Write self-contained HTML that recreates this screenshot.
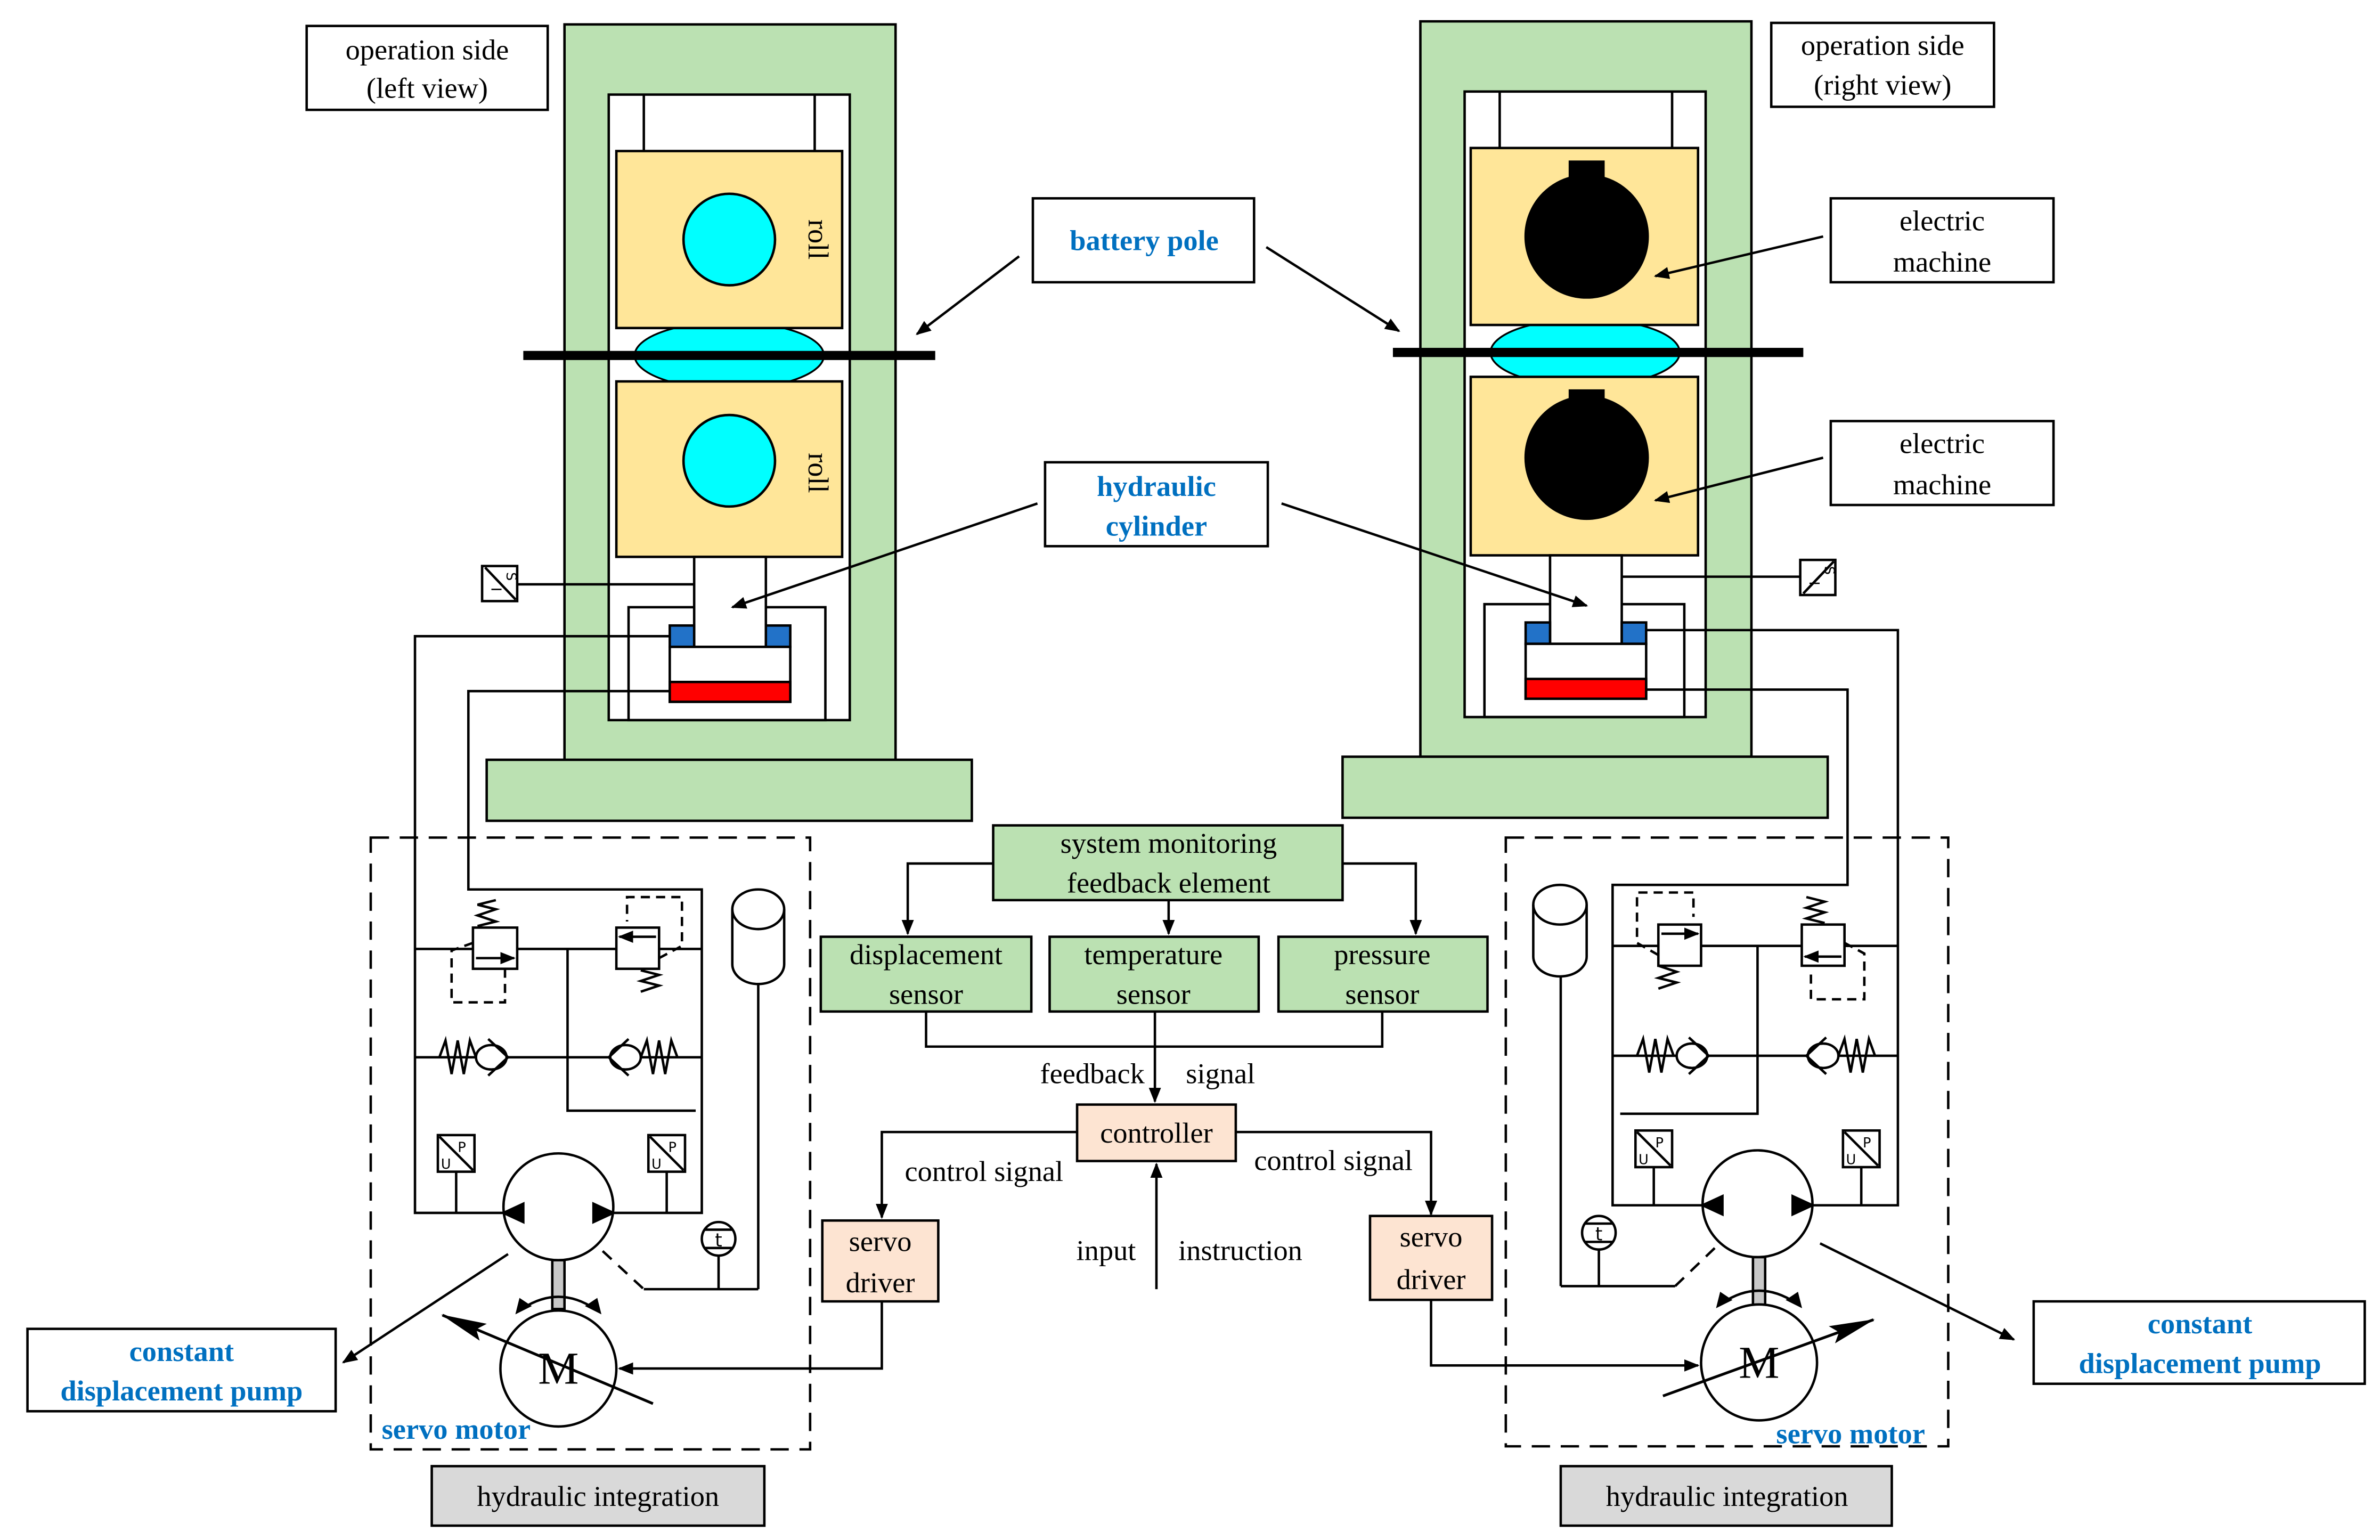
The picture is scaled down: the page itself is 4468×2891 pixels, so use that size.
<!DOCTYPE html>
<html><head><meta charset="utf-8"><style>html,body{margin:0;padding:0;background:#fff}svg{display:block}</style></head>
<body>
<svg xmlns="http://www.w3.org/2000/svg" width="4468" height="2891" viewBox="0 0 1560 1009.4" font-family="'Liberation Serif', serif">
<defs>
<marker id="a" markerWidth="10" markerHeight="8" refX="9" refY="4" orient="auto" markerUnits="userSpaceOnUse"><path d="M0,0 L10,4 L0,8 Z" fill="#000"/></marker>
<marker id="b" markerWidth="30" markerHeight="12" refX="29" refY="6" orient="auto" markerUnits="userSpaceOnUse"><path d="M0,0 L30,6 L0,12 L5,6 Z" fill="#000"/></marker>
</defs>
<rect width="1560" height="1010" fill="#fff"/>
<g stroke="#000" stroke-width="1.6" fill="none">
<rect x="370" y="16" width="217" height="482" fill="#bbe1b2"/>
<rect x="319" y="498" width="318" height="40" fill="#bbe1b2"/>
<rect x="399" y="62" width="158" height="410" fill="#fff"/>
<line x1="422" y1="62" x2="422" y2="99"/><line x1="534" y1="62" x2="534" y2="99"/>
<ellipse cx="478" cy="233" rx="62" ry="22" fill="#00ffff" stroke-width="1.2"/>
<rect x="404" y="99" width="148" height="116" fill="#ffe699"/>
<rect x="404" y="250" width="148" height="115" fill="#ffe699"/>
<circle cx="478" cy="157" r="30" fill="#00ffff"/>
<circle cx="478" cy="302" r="30" fill="#00ffff"/>
<line x1="343" y1="233" x2="613" y2="233" stroke-width="6"/>
<rect x="412" y="398" width="129" height="74"/>
<rect x="455" y="365" width="47" height="59" fill="#fff"/>
<rect x="439" y="410" width="16" height="14" fill="#2272c8"/>
<rect x="502" y="410" width="16" height="14" fill="#2272c8"/>
<rect x="439" y="424" width="79" height="36" fill="#fff"/>
<rect x="439" y="447" width="79" height="13" fill="#f00"/>
<rect x="316" y="371" width="23" height="23" fill="#fff"/><line x1="318" y1="372" x2="338" y2="393"/>
<line x1="339" y1="383" x2="455" y2="383"/>
<rect x="931" y="14" width="217" height="482" fill="#bbe1b2"/>
<rect x="880" y="496" width="318" height="40" fill="#bbe1b2"/>
<rect x="960" y="60" width="158" height="410" fill="#fff"/>
<line x1="983" y1="60" x2="983" y2="97"/><line x1="1096" y1="60" x2="1096" y2="97"/>
<ellipse cx="1039" cy="231" rx="62" ry="22" fill="#00ffff" stroke-width="1.2"/>
<rect x="964" y="97" width="149" height="116" fill="#ffe699"/>
<rect x="964" y="247" width="149" height="117" fill="#ffe699"/>
<circle cx="1040" cy="155" r="40" fill="#000"/><rect x="1029" y="106" width="22" height="14" fill="#000"/>
<circle cx="1040" cy="300" r="40" fill="#000"/><rect x="1029" y="256" width="22" height="14" fill="#000"/>
<line x1="913" y1="231" x2="1182" y2="231" stroke-width="6"/>
<rect x="973" y="396" width="131" height="74"/>
<rect x="1016" y="364" width="47" height="58" fill="#fff"/>
<rect x="1000" y="408" width="16" height="14" fill="#2272c8"/>
<rect x="1063" y="408" width="16" height="14" fill="#2272c8"/>
<rect x="1000" y="422" width="79" height="36" fill="#fff"/>
<rect x="1000" y="445" width="79" height="13" fill="#f00"/>
<rect x="1180" y="367" width="23" height="23" fill="#fff"/><line x1="1182" y1="389" x2="1202" y2="368"/>
<line x1="1063" y1="378" x2="1180" y2="378"/>
<rect x="243" y="549" width="288" height="401" stroke-dasharray="12,7"/>
<polyline points="439,417 272,417 272,795 330,795"/>
<polyline points="439,453 307,453 307,583 460,583 460,795 402,795"/>
<line x1="272" y1="622" x2="460" y2="622"/>
<rect x="310" y="608" width="29" height="27" fill="#fff"/><line x1="312" y1="628" x2="337" y2="628" marker-end="url(#a)"/>
<polyline points="313,607 325,604 313,600 325,596 313,593 325,590"/>
<polyline points="310,618 296,623 296,657 331,657 331,635" stroke-dasharray="6,4"/>
<rect x="404" y="608" width="28" height="27" fill="#fff"/><line x1="430" y1="614" x2="406" y2="614" marker-end="url(#a)"/>
<polyline points="420,636 432,639 420,643 432,646 420,650"/>
<polyline points="432,628 447,620 447,588 411,588 411,604" stroke-dasharray="6,4"/>
<polyline points="372,622 372,728 456,728 Q458,736 462,736 Q466,736 466,728 L497,728"/>
<line x1="272" y1="693" x2="460" y2="693"/>
<polyline points="288,693 292,682 296,704 300,682 304,704 308,682 312,693" />
<ellipse cx="322" cy="693" rx="10" ry="8" fill="#fff"/><polyline points="320,681 333,693 320,705"/>
<ellipse cx="410" cy="693" rx="10" ry="8" fill="#fff"/><polyline points="412,681 399,693 412,705"/>
<polyline points="420,693 424,682 428,704 432,682 436,704 440,682 444,693"/>
<path d="M480,596 A17,13 0 0 1 514,596 L514,632 A17,13 0 0 1 480,632 Z" fill="#fff"/><path d="M480,596 A17,13 0 0 0 514,596"/>
<line x1="497" y1="645" x2="497" y2="845"/>
<rect x="287" y="744" width="24" height="24" fill="#fff"/><line x1="288" y1="745" x2="310" y2="767"/><line x1="299" y1="768" x2="299" y2="795"/>
<rect x="425" y="744" width="24" height="24" fill="#fff"/><line x1="426" y1="745" x2="448" y2="767"/><line x1="437" y1="768" x2="437" y2="795"/>
<ellipse cx="366" cy="791" rx="36" ry="35" fill="#fff"/>
<path d="M330,795 L343,789 L343,801 Z M402,795 L389,789 L389,801 Z" fill="#000"/>
<circle cx="471" cy="812" r="11" fill="#fff"/><line x1="462" y1="806" x2="480" y2="806"/><line x1="462" y1="818" x2="480" y2="818"/>
<line x1="471" y1="823" x2="471" y2="845"/>
<polyline points="422,845 497,845"/><line x1="395" y1="820" x2="422" y2="845" stroke-dasharray="8,6"/>
<rect x="362" y="826" width="8" height="32" fill="#c8c8c8"/>
<path d="M342,858 Q366,842 390,858" /><path d="M339,860 l2,-8 l6,4 Z M393,860 l-2,-8 l-6,4 Z" fill="#000"/>
<circle cx="366" cy="897" r="38" fill="#fff"/>
<line x1="428" y1="920" x2="290" y2="862" stroke-width="1.8" marker-end="url(#b)"/>
<polyline points="578,853 578,897 406,897" marker-end="url(#a)"/>
<line x1="333" y1="822" x2="225" y2="893" marker-end="url(#a)"/>
<rect x="987" y="549" width="290" height="399" stroke-dasharray="12,7"/>
<polyline points="1079,413 1244,413 1244,790 1188,790"/>
<polyline points="1079,452 1211,452 1211,580 1057,580 1057,790 1116,790"/>
<line x1="1057" y1="620" x2="1244" y2="620"/>
<rect x="1087" y="606" width="28" height="27" fill="#fff"/><line x1="1089" y1="612" x2="1113" y2="612" marker-end="url(#a)"/>
<polyline points="1087,633 1099,637 1087,641 1099,644 1087,648"/>
<polyline points="1087,626 1073,618 1073,585 1110,585 1110,601" stroke-dasharray="6,4"/>
<rect x="1181" y="606" width="28" height="27" fill="#fff"/><line x1="1207" y1="627" x2="1183" y2="627" marker-end="url(#a)"/>
<polyline points="1196,605 1184,602 1196,598 1184,595 1196,591 1184,588"/>
<polyline points="1209,618 1222,625 1222,655 1187,655 1187,636" stroke-dasharray="6,4"/>
<polyline points="1152,620 1152,730 1062,730 Q1060,738 1056,738 Q1052,738 1050,730 L1023,730"/>
<line x1="1057" y1="692" x2="1244" y2="692"/>
<polyline points="1073,692 1077,681 1081,703 1085,681 1089,703 1093,681 1097,692"/>
<ellipse cx="1109" cy="692" rx="10" ry="8" fill="#fff"/><polyline points="1107,680 1120,692 1107,704"/>
<ellipse cx="1195" cy="692" rx="10" ry="8" fill="#fff"/><polyline points="1197,680 1184,692 1197,704"/>
<polyline points="1205,692 1209,681 1213,703 1217,681 1221,703 1225,681 1229,692"/>
<path d="M1005,593 A17.5,13 0 0 1 1040,593 L1040,627 A17.5,13 0 0 1 1005,627 Z" fill="#fff"/><path d="M1005,593 A17.5,13 0 0 0 1040,593"/>
<line x1="1023" y1="640" x2="1023" y2="843"/>
<rect x="1072" y="741" width="24" height="24" fill="#fff"/><line x1="1073" y1="742" x2="1095" y2="764"/><line x1="1084" y1="765" x2="1084" y2="790"/>
<rect x="1208" y="741" width="24" height="24" fill="#fff"/><line x1="1209" y1="742" x2="1231" y2="764"/><line x1="1220" y1="765" x2="1220" y2="790"/>
<ellipse cx="1152" cy="789" rx="36" ry="35" fill="#fff"/>
<path d="M1116,790 L1129,784 L1129,796 Z M1188,790 L1175,784 L1175,796 Z" fill="#000"/>
<circle cx="1048" cy="808" r="11" fill="#fff"/><line x1="1039" y1="802" x2="1057" y2="802"/><line x1="1039" y1="814" x2="1057" y2="814"/>
<line x1="1048" y1="819" x2="1048" y2="843"/>
<polyline points="1023,843 1098,843"/><line x1="1098" y1="843" x2="1124" y2="818" stroke-dasharray="8,6"/>
<rect x="1149" y="824" width="8" height="32" fill="#c8c8c8"/>
<path d="M1129,854 Q1153,838 1177,854"/><path d="M1126,856 l2,-8 l6,4 Z M1180,856 l-2,-8 l-6,4 Z" fill="#000"/>
<circle cx="1153" cy="893" r="38" fill="#fff"/>
<line x1="1090" y1="915" x2="1228" y2="865" stroke-width="1.8" marker-end="url(#b)"/>
<polyline points="938,852 938,895 1113,895" marker-end="url(#a)"/>
<line x1="1193" y1="815" x2="1320" y2="878" marker-end="url(#a)"/>
<rect x="651" y="541" width="229" height="49" fill="#bbe1b2"/>
<polyline points="651,566 595,566 595,612" marker-end="url(#a)"/>
<line x1="766" y1="590" x2="766" y2="612" marker-end="url(#a)"/>
<polyline points="880,566 928,566 928,612" marker-end="url(#a)"/>
<rect x="538" y="614" width="138" height="49" fill="#bbe1b2"/>
<rect x="688" y="614" width="137" height="49" fill="#bbe1b2"/>
<rect x="838" y="614" width="137" height="49" fill="#bbe1b2"/>
<polyline points="607,663 607,686 906,686 906,663"/>
<line x1="757" y1="663" x2="757" y2="722" marker-end="url(#a)"/>
<rect x="706" y="724" width="104" height="37" fill="#fde4d2"/>
<polyline points="706,742 578,742 578,798" marker-end="url(#a)"/>
<polyline points="810,742 938,742 938,796" marker-end="url(#a)"/>
<line x1="758" y1="845" x2="758" y2="763" marker-end="url(#a)"/>
<rect x="539" y="800" width="76" height="53" fill="#fde4d2"/>
<rect x="898" y="797" width="80" height="55" fill="#fde4d2"/>
<rect x="201" y="17" width="158" height="55" fill="#fff"/>
<rect x="1161" y="15" width="146" height="55" fill="#fff"/>
<rect x="677" y="130" width="145" height="55" fill="#fff"/>
<rect x="685" y="303" width="146" height="55" fill="#fff"/>
<rect x="1200" y="130" width="146" height="55" fill="#fff"/>
<rect x="1200" y="276" width="146" height="55" fill="#fff"/>
<rect x="18" y="871" width="202" height="54" fill="#fff"/>
<rect x="1333" y="853" width="217" height="54" fill="#fff"/>
<rect x="283" y="961" width="218" height="39" fill="#d9d9d9"/>
<rect x="1023" y="961" width="217" height="39" fill="#d9d9d9"/>
<line x1="668" y1="168" x2="601" y2="219" marker-end="url(#a)"/>
<line x1="830" y1="162" x2="917" y2="217" marker-end="url(#a)"/>
<line x1="680" y1="330" x2="480" y2="398" marker-end="url(#a)"/>
<line x1="840" y1="330" x2="1040" y2="397" marker-end="url(#a)"/>
<line x1="1195" y1="155" x2="1085" y2="181" marker-end="url(#a)"/>
<line x1="1195" y1="300" x2="1085" y2="328" marker-end="url(#a)"/>
</g>
<g font-size="19" fill="#000" text-anchor="middle">
<text x="280" y="39">operation side</text><text x="280" y="64">(left view)</text>
<text x="1234" y="36">operation side</text><text x="1234" y="62">(right view)</text>
<text x="1273" y="151">electric</text><text x="1273" y="178">machine</text>
<text x="1273" y="297">electric</text><text x="1273" y="324">machine</text>
<text x="766" y="559">system monitoring</text><text x="766" y="585">feedback element</text>
<text x="607" y="632">displacement</text><text x="607" y="658">sensor</text>
<text x="756" y="632">temperature</text><text x="756" y="658">sensor</text>
<text x="906" y="632">pressure</text><text x="906" y="658">sensor</text>
<text x="716" y="710">feedback</text><text x="800" y="710">signal</text>
<text x="758" y="749">controller</text>
<text x="645" y="774">control signal</text><text x="874" y="767">control signal</text>
<text x="725" y="826">input</text><text x="813" y="826">instruction</text>
<text x="577" y="820">servo</text><text x="577" y="847">driver</text>
<text x="938" y="817">servo</text><text x="938" y="845">driver</text>
<text x="392" y="987">hydraulic integration</text><text x="1132" y="987">hydraulic integration</text>
<text x="366" y="907" font-size="30">M</text><text x="1153" y="903" font-size="30">M</text>
<text x="471" y="817" font-size="12" font-family="'DejaVu Sans',sans-serif">t</text>
<text x="1048" y="813" font-size="12" font-family="'DejaVu Sans',sans-serif">t</text>
<text transform="translate(530,157) rotate(90)">roll</text>
<text transform="translate(530,310) rotate(90)">roll</text>
</g>
<g font-family="'DejaVu Sans',sans-serif" font-size="9" fill="#000">
<text x="289" y="766">U</text><text x="300" y="755">P</text>
<text x="427" y="766">U</text><text x="438" y="755">P</text>
<text x="1074" y="763">U</text><text x="1085" y="752">P</text>
<text x="1210" y="763">U</text><text x="1221" y="752">P</text>
<text transform="translate(332,375) rotate(90)">S</text><text transform="translate(322,385) rotate(90)">I</text>
<text transform="translate(1196,371) rotate(90)">S</text><text transform="translate(1186,381) rotate(90)">I</text>
</g>
<g font-size="19" font-weight="bold" fill="#0070c0" text-anchor="middle">
<text x="750" y="164">battery pole</text>
<text x="758" y="325">hydraulic</text><text x="758" y="351">cylinder</text>
<text x="119" y="892">constant</text><text x="119" y="918">displacement pump</text>
<text x="1442" y="874">constant</text><text x="1442" y="900">displacement pump</text>
<text x="299" y="943">servo motor</text><text x="1213" y="946">servo motor</text>
</g>
</svg>
</body></html>
